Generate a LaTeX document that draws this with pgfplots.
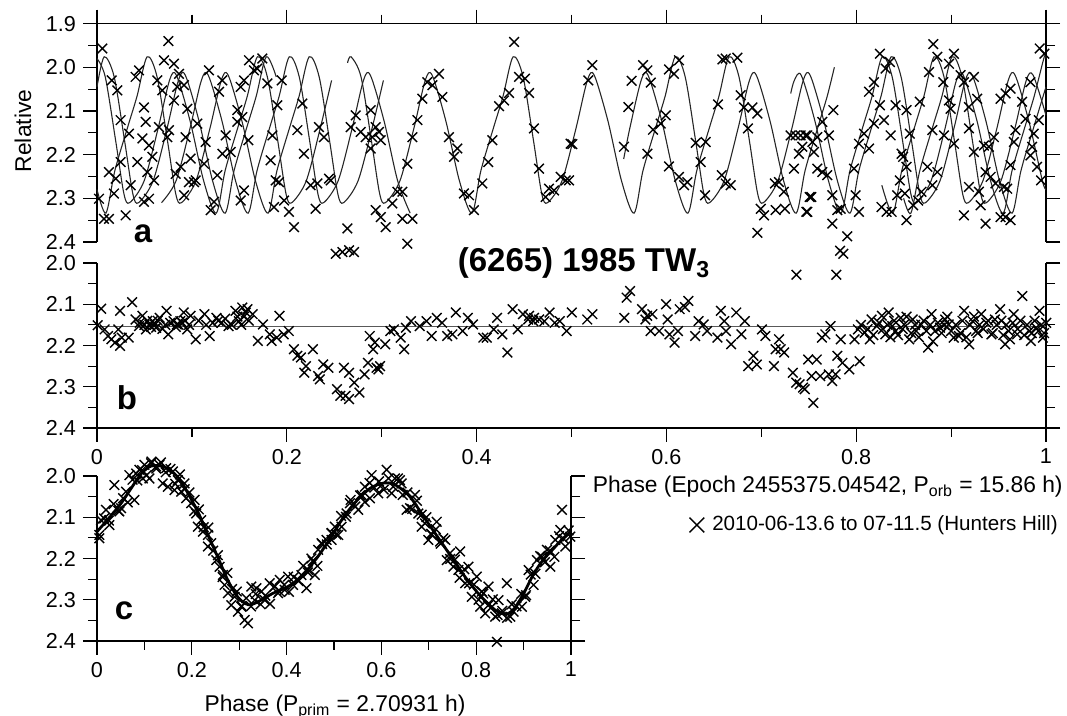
\documentclass[border=0pt]{standalone}
\usepackage{fontspec}
\setmainfont{Liberation Sans}
\usepackage{pgfplots}
\pgfplotsset{compat=1.18}
\pgfplotsset{
  lcbase/.style={
    scale only axis, enlargelimits=false, y dir=reverse, clip=false,
    xmin=0, xmax=1,
    tick align=outside,
    major tick length=7pt, minor tick length=4.5pt,
    axis line style={draw=none},
    tick style={black, line width=0.6pt},
    minor x tick num=1, minor y tick num=1,
    xtick={0,0.2,0.4,0.6,0.8,1},
    ytick pos=both,
    /pgf/number format/assume math mode=true,
    ticklabel style={font=\fontsize{10.8}{12}\selectfont},
    yticklabel style={/pgf/number format/.cd, fixed, fixed zerofill, precision=1},
    yticklabel pos=left,
  },
  pts/.style={only marks, mark=x, mark size=3.4pt, mark options={line width=0.7pt, black}},
  fit/.style={black!85, line width=0.55pt, smooth, no marks},
}
\begin{document}
\begin{tikzpicture}
\path[use as bounding box] (0,0) rectangle (533.5pt,358pt);

%%%%%%%%%%%%%%%% Panel a
\begin{axis}[lcbase, at={(48.5pt,237pt)}, anchor=south west,
  width=474.5pt, height=109.2pt, ymin=1.9, ymax=2.4,
  ytick={1.9,2.0,2.1,2.2,2.3,2.4}, xtick pos=right, xticklabels={}]
\draw[line width=0.6pt] (axis cs:0,2.4) -- (axis cs:0,1.9) -- (axis cs:1,1.9) -- (axis cs:1,2.4);
% model curves (one per night)
\addplot[fit] coordinates {(0.2640,1.990) (0.2677,1.976) (0.2782,2.022) (0.2893,2.170) (0.2979,2.290) (0.3039,2.310) (0.3192,2.260) (0.3339,2.140) (0.3459,2.030) (0.3531,2.018) (0.3676,2.123) (0.3819,2.260) (0.3951,2.334) (0.4046,2.236) (0.4183,2.135) (0.4279,2.066) (0.4385,1.976) (0.4490,2.022) (0.4601,2.170) (0.4687,2.290) (0.4747,2.310) (0.4900,2.260) (0.5047,2.140) (0.5167,2.030) (0.5239,2.018) (0.5384,2.123) (0.5527,2.260) (0.5659,2.334) (0.5754,2.236) (0.5891,2.135) (0.5987,2.066) (0.6093,1.976) (0.6198,2.022) (0.6309,2.170) (0.6395,2.290) (0.6455,2.310) (0.6608,2.260) (0.6755,2.140) (0.6875,2.030) (0.6947,2.018) (0.7092,2.123) (0.7235,2.260) (0.7367,2.334) (0.7462,2.236) (0.7599,2.135) (0.7695,2.066) (0.7770,2.000)};
\addplot[fit] coordinates {(0.5550,2.210) (0.5614,2.140) (0.5734,2.030) (0.5806,2.018) (0.5951,2.123) (0.6094,2.260) (0.6226,2.334) (0.6321,2.236) (0.6458,2.135) (0.6554,2.066) (0.6660,1.976) (0.6765,2.022) (0.6876,2.170) (0.6962,2.290) (0.7022,2.310) (0.7175,2.260) (0.7322,2.140) (0.7442,2.030) (0.7514,2.018) (0.7659,2.123) (0.7802,2.260) (0.7934,2.334) (0.8029,2.236) (0.8166,2.135) (0.8262,2.066) (0.8368,1.976) (0.8473,2.022) (0.8584,2.170) (0.8670,2.290) (0.8730,2.310) (0.8883,2.260) (0.9030,2.140) (0.9150,2.030) (0.9222,2.018) (0.9367,2.123) (0.9510,2.260) (0.9642,2.334) (0.9737,2.236) (0.9874,2.135) (0.9970,2.066) (1.0000,2.045)};
\addplot[fit] coordinates {(0.0000,2.045) (0.0076,1.976) (0.0181,2.022) (0.0292,2.170) (0.0378,2.290) (0.0438,2.310) (0.0591,2.260) (0.0738,2.140) (0.0858,2.030) (0.0930,2.018) (0.1075,2.123) (0.1218,2.260) (0.1350,2.334) (0.1445,2.236) (0.1582,2.135) (0.1678,2.066) (0.1784,1.976) (0.1889,2.022)};
\addplot[fit] coordinates {(0.7310,2.060) (0.7348,2.030) (0.7420,2.018) (0.7565,2.123) (0.7708,2.260) (0.7840,2.334) (0.7935,2.236) (0.8072,2.135) (0.8168,2.066) (0.8274,1.976) (0.8379,2.022) (0.8490,2.170) (0.8576,2.290) (0.8636,2.310) (0.8789,2.260) (0.8936,2.140) (0.9056,2.030) (0.9128,2.018) (0.9273,2.123) (0.9416,2.260) (0.9548,2.334) (0.9643,2.236) (0.9780,2.135) (0.9876,2.066) (0.9982,1.976) (1.0000,1.980)};
\addplot[fit] coordinates {(0.0000,1.980) (0.0087,2.022) (0.0198,2.170) (0.0284,2.290) (0.0344,2.310) (0.0497,2.260) (0.0644,2.140) (0.0764,2.030) (0.0836,2.018) (0.0981,2.123) (0.1124,2.260) (0.1256,2.334) (0.1351,2.236) (0.1488,2.135) (0.1584,2.066) (0.1690,1.976) (0.1795,2.022) (0.1906,2.170) (0.1992,2.290) (0.2052,2.310) (0.2205,2.260) (0.2352,2.140) (0.2472,2.030)};
\addplot[fit] coordinates {(0.8270,2.270) (0.8386,2.334) (0.8481,2.236) (0.8618,2.135) (0.8714,2.066) (0.8820,1.976) (0.8925,2.022) (0.9036,2.170) (0.9122,2.290) (0.9182,2.310) (0.9335,2.260) (0.9482,2.140) (0.9602,2.030) (0.9674,2.018) (0.9819,2.123) (0.9962,2.260) (1.0000,2.280)};
\addplot[fit] coordinates {(0.0000,2.280) (0.0094,2.334) (0.0189,2.236) (0.0326,2.135) (0.0422,2.066) (0.0528,1.976) (0.0633,2.022) (0.0744,2.170) (0.0830,2.290) (0.0890,2.310) (0.1043,2.260) (0.1190,2.140) (0.1310,2.030) (0.1382,2.018) (0.1527,2.123) (0.1670,2.260) (0.1802,2.334) (0.1897,2.236) (0.2034,2.135) (0.2130,2.066) (0.2236,1.976) (0.2341,2.022) (0.2452,2.170) (0.2538,2.290) (0.2598,2.310) (0.2751,2.260) (0.2898,2.140) (0.3018,2.030)};
\addplot[fit] coordinates {(0.8500,2.300) (0.8576,2.334) (0.8671,2.236) (0.8808,2.135) (0.8904,2.066) (0.9010,1.976) (0.9115,2.022) (0.9226,2.170) (0.9312,2.290) (0.9372,2.310) (0.9525,2.260) (0.9672,2.140) (0.9792,2.030) (0.9864,2.018) (1.0000,2.110)};
\addplot[fit] coordinates {(0.0680,2.310) (0.0833,2.260) (0.0980,2.140) (0.1100,2.030) (0.1172,2.018) (0.1317,2.123) (0.1460,2.260) (0.1592,2.334) (0.1687,2.236) (0.1824,2.135) (0.1920,2.066) (0.2026,1.976) (0.2131,2.022) (0.2242,2.170) (0.2328,2.290) (0.2388,2.310) (0.2541,2.260) (0.2688,2.140) (0.2808,2.030) (0.2880,2.018) (0.3025,2.123) (0.3168,2.260) (0.3300,2.334)};
% observations
\addplot[pts] coordinates {
(0.0056,1.957) (0.0155,2.030) (0.0214,2.053) (0.0249,2.121) (0.0337,2.152) (0.0126,2.240) (0.0197,2.255) (0.0249,2.217) (0.0179,2.289) (0.0021,2.301) (0.0074,2.347) (0.0126,2.347) (0.0302,2.339) (0.0355,2.270) (0.0443,2.007) (0.0407,2.022) (0.0495,2.092) (0.0513,2.125) (0.0478,2.163) (0.0425,2.217) (0.0548,2.179) (0.0530,2.240) (0.0583,2.205) (0.0601,2.259) (0.0495,2.308) (0.0548,2.301) (0.0636,2.030) (0.0688,2.053) (0.0706,1.984) (0.0752,1.940) (0.0811,1.992) (0.0864,2.015) (0.0846,2.045) (0.0917,2.041) (0.0811,2.076) (0.0759,2.144) (0.0741,2.160) (0.0653,2.137) (0.0934,2.160) (0.0952,2.095) (0.0987,2.209) (0.0882,2.228) (0.0829,2.244) (0.0969,2.263) (0.1022,2.263) (0.1040,2.259) (0.0917,2.293) (0.1057,2.129) (0.1145,2.171) (0.1128,2.221) (0.1268,2.247) (0.1180,2.007) (0.1286,2.056) (0.1321,2.030) (0.1233,2.308) (0.1198,2.327) (0.1356,2.156) (0.1321,2.198) (0.1409,2.194) (0.1479,2.125) (0.1531,2.114) (0.1514,2.045) (0.1549,2.030) (0.1479,2.098) (0.1595,2.167) (0.1602,1.984) (0.1654,2.007) (0.1689,2.003) (0.1742,1.980) (0.1795,2.037) (0.1549,2.282) (0.1514,2.305) (0.1830,2.213) (0.1848,2.156) (0.1900,2.087) (0.1946,2.030) (0.1883,2.259) (0.1918,2.263) (0.1865,2.320) (0.1971,2.305) (0.2023,2.331) (0.2076,2.366) (0.2111,2.144) (0.2164,2.083) (0.2181,2.198) (0.2251,2.270) (0.2322,2.266) (0.2339,2.137) (0.2392,2.160) (0.2304,2.324) (0.2445,2.255)
(0.2462,2.259) (0.2638,2.369) (0.2516,2.427) (0.2586,2.423) (0.2656,2.419) (0.2708,2.423) (0.2673,2.137) (0.2726,2.110) (0.2779,2.148) (0.2832,2.160) (0.2884,2.098) (0.2901,2.160) (0.2884,2.186) (0.2937,2.137) (0.2972,2.148) (0.2990,2.167) (0.2937,2.327) (0.2990,2.343) (0.3042,2.366) (0.3112,2.312) (0.3165,2.285) (0.3218,2.285) (0.3218,2.347) (0.3323,2.347) (0.3270,2.404) (0.3270,2.221) (0.3323,2.160) (0.3376,2.121) (0.3428,2.072) (0.3481,2.034) (0.3534,2.041) (0.3604,2.015) (0.3639,2.068) (0.3709,2.160) (0.3797,2.186) (0.3762,2.205) (0.3867,2.289) (0.3920,2.293) (0.3972,2.327) (0.4060,2.266) (0.4123,2.217) (0.4166,2.167) (0.4237,2.089) (0.4289,2.076) (0.4342,2.059) (0.4395,1.942) (0.4447,2.022) (0.4510,2.026) (0.4553,2.059) (0.4605,2.140) (0.4658,2.232) (0.4728,2.297) (0.4763,2.278) (0.4816,2.282) (0.4886,2.251) (0.4939,2.259) (0.4991,2.175)
(0.5009,2.176) (0.4974,2.259) (0.5177,2.030) (0.5219,1.995) (0.5553,2.182) (0.5599,2.091) (0.5634,2.031) (0.5754,1.995) (0.5800,2.007) (0.5835,2.035) (0.5800,2.198) (0.5859,2.143) (0.5940,2.129) (0.5993,2.110) (0.6027,2.005) (0.6080,2.015) (0.6133,1.984) (0.6027,2.227) (0.6133,2.251) (0.6186,2.270) (0.6221,2.263) (0.6309,2.173) (0.6361,2.217) (0.6414,2.171) (0.6407,2.293) (0.6544,2.085) (0.6590,1.982) (0.6625,1.980) (0.6748,1.978) (0.6583,2.247) (0.6625,2.266) (0.6678,2.270) (0.6783,2.064) (0.6818,2.092) (0.6860,2.140) (0.6906,2.092) (0.6959,2.106) (0.6994,2.324) (0.7029,2.339) (0.6959,2.379) (0.7143,2.266) (0.7186,2.263) (0.7238,2.285) (0.7151,2.327) (0.7249,2.324) (0.7309,2.156) (0.7361,2.156) (0.7414,2.156) (0.7467,2.156) (0.7432,2.182) (0.7397,2.198) (0.7344,2.232) (0.7475,2.331) (0.7510,2.297)
(0.7370,2.475) (0.7790,2.475) (0.7830,2.420)
(0.7485,2.156) (0.7538,2.171) (0.7590,2.160) (0.7555,2.194) (0.7643,2.125) (0.7713,2.156) (0.7759,2.098) (0.7590,2.232) (0.7643,2.240) (0.7695,2.247) (0.7527,2.297) (0.7485,2.331) (0.7748,2.293) (0.7801,2.327) (0.7836,2.324) (0.7748,2.358) (0.7906,2.387) (0.7864,2.427) (0.7977,2.232) (0.7994,2.293) (0.8029,2.331) (0.8029,2.175) (0.8082,2.152) (0.8135,2.186) (0.8187,2.129) (0.8135,2.056) (0.8187,2.034) (0.8250,1.969) (0.8310,2.003) (0.8355,1.988) (0.8250,2.087) (0.8292,2.121) (0.8363,2.156) (0.8415,2.087) (0.8267,2.320) (0.8320,2.331) (0.8373,2.331) (0.8432,2.293) (0.8460,2.259) (0.8478,2.198) (0.8530,2.098) (0.8565,2.152) (0.8495,2.205) (0.8530,2.228) (0.8513,2.289) (0.8530,2.350) (0.8600,2.316) (0.8653,2.305) (0.8688,2.285) (0.8670,2.079) (0.8767,2.011) (0.8812,1.947) (0.8855,1.976) (0.8802,2.144) (0.8750,2.228) (0.8802,2.270) (0.8855,2.240) (0.8918,2.034) (0.8978,1.992) (0.9030,1.969) (0.8978,2.076) (0.8995,2.095) (0.9030,2.175) (0.8925,2.156) (0.9100,2.018) (0.9135,2.034) (0.9188,2.091) (0.9240,2.022) (0.9275,2.072) (0.9188,2.140) (0.9240,2.194) (0.9135,2.339) (0.9188,2.274) (0.9293,2.285) (0.9311,2.316) (0.9363,2.358) (0.9346,2.179) (0.9398,2.182) (0.9363,2.240) (0.9451,2.160) (0.9416,2.251) (0.9468,2.266) (0.9521,2.072) (0.9574,2.060) (0.9626,2.049) (0.9521,2.343) (0.9574,2.343) (0.9626,2.350) (0.9556,2.274) (0.9591,2.278) (0.9626,2.224) (0.9661,2.171) (0.9678,2.144) (0.9748,2.079) (0.9784,2.118) (0.9836,2.034) (0.9924,2.121) (0.9871,2.152) (0.9854,2.182) (0.9836,2.202) (0.9906,2.228) (0.9948,2.259) (0.9934,1.957) (0.9983,1.969)
};
\end{axis}

%%%%%%%%%%%%%%%% Panel b
\begin{axis}[lcbase, at={(48.5pt,144pt)}, anchor=south west,
  width=474.5pt, height=82.5pt, ymin=2.0, ymax=2.4,
  ytick={2.0,2.1,2.2,2.3,2.4}, xtick pos=left, xticklabel pos=left,
  legend style={at={(axis description cs:0.624,-0.588)}, anchor=west, draw=none, fill=none,
    font=\fontsize{10.3}{12}\selectfont, inner sep=0pt},
  legend cell align=left]
\addlegendimage{only marks, mark=x, mark size=5.2pt, mark options={line width=0.7pt, black}}
\addlegendentry{\hspace{2pt}2010-06-13.6 to 07-11.5 (Hunters Hill)}
\draw[line width=0.6pt] (axis cs:0,2.0) -- (axis cs:0,2.4) -- (axis cs:1,2.4) -- (axis cs:1,2.0);
\addplot[gray!70!black, line width=0.6pt, no marks] coordinates {(0,2.153) (1,2.153)};
\addplot[pts] coordinates {
(0.0007,2.151) (0.0044,2.111) (0.0080,2.161) (0.0116,2.177) (0.0152,2.185) (0.0189,2.193) (0.0225,2.161) (0.0243,2.116) (0.0261,2.181) (0.0243,2.201) (0.0334,2.181) (0.0370,2.095) (0.0406,2.137) (0.0443,2.153) (0.0479,2.128) (0.0515,2.161) (0.0552,2.149) (0.0588,2.141) (0.0624,2.157) (0.0660,2.133) (0.0733,2.116) (0.0751,2.173) (0.0806,2.141) (0.0842,2.149) (0.0878,2.141) (0.0914,2.120) (0.0951,2.161) (0.0987,2.128) (0.1041,2.185) (0.1132,2.124) (0.1187,2.177) (0.1259,2.133) (0.1313,2.145) (0.1386,2.153) (0.1459,2.116) (0.1495,2.141) (0.1531,2.108) (0.1568,2.120) (0.1586,2.112) (0.1640,2.124) (0.1695,2.189) (0.1749,2.149) (0.1821,2.173) (0.1840,2.189) (0.1894,2.181) (0.1923,2.128) (0.1967,2.173) (0.2021,2.165) (0.2075,2.209) (0.2112,2.225) (0.2148,2.229) (0.2202,2.250) (0.2184,2.266) (0.2275,2.209) (0.2330,2.274) (0.2348,2.282) (0.2384,2.246) (0.2438,2.254) (0.2529,2.306) (0.2565,2.322) (0.2602,2.254) (0.2620,2.322) (0.2656,2.330) (0.2656,2.266) (0.2710,2.290) (0.2765,2.314) (0.2819,2.270) (0.2856,2.242) (0.2874,2.177) (0.2910,2.209) (0.2928,2.193) (0.2946,2.254) (0.2965,2.258) (0.2983,2.250) (0.3037,2.197) (0.3091,2.165) (0.3128,2.161) (0.3200,2.181) (0.3237,2.209) (0.3255,2.157) (0.3309,2.141) (0.3400,2.153) (0.3472,2.141) (0.3527,2.177) (0.3581,2.133) (0.3636,2.145) (0.3690,2.177) (0.3745,2.173) (0.3781,2.120) (0.3853,2.165) (0.3908,2.133) (0.3962,2.149) (0.4071,2.181) (0.4107,2.181) (0.4180,2.161) (0.4216,2.133) (0.4271,2.173) (0.4325,2.217) (0.4380,2.112) (0.4434,2.161) (0.4488,2.124) (0.4543,2.137) (0.4597,2.141)
(0.4552,2.128) (0.4606,2.133) (0.4660,2.137) (0.4714,2.141) (0.4769,2.120) (0.4823,2.145) (0.4877,2.141) (0.4949,2.165) (0.5003,2.120) (0.5166,2.137) (0.5220,2.124) (0.5556,2.133) (0.5581,2.084) (0.5617,2.068) (0.5743,2.112) (0.5779,2.137) (0.5797,2.128) (0.5834,2.165) (0.5852,2.124) (0.5924,2.165) (0.5996,2.100) (0.6014,2.137) (0.6032,2.173) (0.6086,2.193) (0.6122,2.165) (0.6140,2.112) (0.6195,2.107) (0.6231,2.092) (0.6303,2.177) (0.6339,2.141) (0.6393,2.149) (0.6429,2.165) (0.6538,2.181) (0.6574,2.116) (0.6610,2.141) (0.6628,2.165) (0.6682,2.197) (0.6736,2.120) (0.6790,2.173) (0.6826,2.141) (0.6862,2.250) (0.6917,2.225) (0.6953,2.246) (0.7007,2.161) (0.7043,2.177) (0.7133,2.250) (0.7151,2.209) (0.7187,2.185) (0.7205,2.209) (0.7241,2.217) (0.7332,2.266) (0.7368,2.290) (0.7404,2.294) (0.7440,2.302) (0.7458,2.306) (0.7494,2.234) (0.7530,2.274) (0.7548,2.339) (0.7584,2.234) (0.7621,2.274) (0.7639,2.181) (0.7675,2.173) (0.7711,2.270) (0.7729,2.153) (0.7747,2.286) (0.7783,2.270) (0.7801,2.225) (0.7837,2.185) (0.7855,2.242) (0.7927,2.258) (0.7982,2.185) (0.8036,2.238) (0.8018,2.161) (0.8090,2.169) (0.8144,2.185) (0.8162,2.137) (0.8216,2.153) (0.8270,2.128) (0.8306,2.173) (0.8342,2.120) (0.8379,2.153) (0.8415,2.165) (0.8469,2.133) (0.8505,2.149) (0.8559,2.185) (0.8595,2.137) (0.8631,2.165) (0.8685,2.149) (0.8758,2.205) (0.8794,2.124) (0.8830,2.165) (0.8884,2.157) (0.8938,2.137) (0.8974,2.149) (0.9028,2.181) (0.9083,2.177) (0.9137,2.116) (0.9191,2.197) (0.9227,2.141) (0.9263,2.165) (0.9317,2.124) (0.9371,2.145) (0.9425,2.173) (0.9462,2.137) (0.9516,2.112) (0.9570,2.197) (0.9606,2.165) (0.9660,2.124) (0.9696,2.173) (0.9750,2.080) (0.9823,2.165) (0.9841,2.189) (0.9895,2.157) (0.9931,2.116) (0.9967,2.181) (1.0003,2.145)
(0.805,2.150) (0.812,2.160) (0.818,2.175) (0.824,2.145) (0.828,2.160) (0.833,2.150) (0.836,2.180) (0.840,2.140) (0.844,2.175) (0.849,2.160) (0.853,2.130) (0.858,2.170) (0.862,2.150) (0.866,2.180) (0.871,2.140) (0.874,2.165) (0.878,2.150) (0.881,2.190) (0.886,2.145) (0.890,2.170) (0.893,2.150) (0.896,2.130) (0.900,2.165) (0.905,2.150) (0.910,2.170) (0.912,2.140) (0.916,2.180) (0.920,2.150) (0.924,2.130) (0.928,2.170) (0.930,2.150) (0.934,2.160) (0.939,2.140) (0.944,2.170) (0.948,2.150) (0.953,2.140) (0.955,2.175) (0.958,2.150) (0.962,2.185) (0.965,2.145) (0.970,2.160) (0.973,2.140) (0.977,2.175) (0.980,2.150) (0.985,2.170) (0.988,2.140) (0.992,2.165) (0.995,2.150) (0.998,2.170)
(0.045,2.145) (0.050,2.150) (0.053,2.140) (0.057,2.155) (0.061,2.150) (0.064,2.140) (0.069,2.160) (0.072,2.150) (0.077,2.145) (0.083,2.155) (0.086,2.150) (0.090,2.145) (0.093,2.140) (0.097,2.150) (0.107,2.140) (0.115,2.150) (0.122,2.145) (0.128,2.140) (0.135,2.135) (0.142,2.150) (0.148,2.130) (0.152,2.150) (0.155,2.130) (0.160,2.140)
};
\end{axis}

%%%%%%%%%%%%%%%% Panel c
\begin{axis}[lcbase, at={(48.5pt,37.5pt)}, anchor=south west,
  width=237pt, height=82.5pt, ymin=2.0, ymax=2.4,
  ytick={2.0,2.1,2.2,2.3,2.4}, xtick pos=left, xticklabel pos=left]
\draw[line width=0.6pt] (axis cs:0,2.0) -- (axis cs:0,2.4) -- (axis cs:1,2.4) -- (axis cs:1,2.0);
\addplot[pts] coordinates {
(0.0049,2.151) (0.0085,2.107) (0.0190,2.082) (0.0261,2.119) (0.0366,2.022) (0.0507,2.078) (0.0472,2.086) (0.0613,2.038) (0.0684,1.998) (0.0789,2.058) (0.0825,1.994) (0.0895,1.985) (0.0965,2.006) (0.1001,1.973) (0.1106,2.006) (0.1142,1.969) (0.1247,1.977) (0.1318,1.973) (0.1388,2.018) (0.1459,1.981) (0.1494,2.026) (0.1600,1.989) (0.1635,2.034) (0.1705,2.010) (0.1776,2.038) (0.1846,2.018) (0.1882,2.054) (0.1987,2.066) (0.2058,2.058) (0.2093,2.091) (0.2128,2.123) (0.2199,2.107) (0.2234,2.135) (0.2340,2.143) (0.2340,2.171) (0.2410,2.163) (0.2516,2.204) (0.2586,2.220) (0.2657,2.240) (0.2692,2.264) (0.2763,2.284) (0.2833,2.313) (0.2903,2.293) (0.2974,2.329) (0.3044,2.317) (0.3115,2.349) (0.3185,2.357) (0.3256,2.268) (0.3362,2.272) (0.3326,2.301) (0.3467,2.280) (0.3538,2.301) (0.3643,2.260) (0.3749,2.268) (0.3820,2.284) (0.3855,2.252) (0.3961,2.276) (0.4031,2.244) (0.4137,2.264) (0.4242,2.252) (0.4313,2.240) (0.4419,2.272) (0.4454,2.228) (0.4524,2.200) (0.4595,2.240) (0.4665,2.179) (0.4736,2.163) (0.4841,2.155) (0.4947,2.139) (0.5018,2.123)
(0.4948,2.155) (0.5089,2.143) (0.5159,2.123) (0.5265,2.091) (0.5335,2.066) (0.5511,2.082) (0.5582,2.046) (0.5652,2.026) (0.5793,1.998) (0.5758,2.054) (0.5934,2.042) (0.6005,2.022) (0.6110,1.985) (0.6216,2.042) (0.6286,2.006) (0.6392,2.010) (0.6427,2.018) (0.6533,2.082) (0.6604,2.078) (0.6709,2.046) (0.6780,2.091) (0.6850,2.123) (0.6921,2.115) (0.6991,2.155) (0.7062,2.143) (0.7167,2.111) (0.7238,2.159) (0.7308,2.151) (0.7379,2.204) (0.7449,2.187) (0.7520,2.220) (0.7625,2.228) (0.7661,2.183) (0.7766,2.260) (0.7837,2.220) (0.7907,2.293) (0.8013,2.244) (0.8084,2.317) (0.8119,2.280) (0.8189,2.333) (0.8260,2.268) (0.8330,2.317) (0.8401,2.341) (0.8436,2.402) (0.8471,2.301) (0.8542,2.333) (0.8647,2.260) (0.8718,2.341) (0.8788,2.329) (0.8965,2.317) (0.9035,2.293) (0.9106,2.228) (0.9211,2.264) (0.9282,2.204) (0.9388,2.196) (0.9493,2.179) (0.9563,2.220) (0.9669,2.155) (0.9775,2.131) (0.9810,2.082) (0.9881,2.171) (0.9986,2.147)
(0.005,2.143) (0.015,2.103) (0.025,2.108) (0.035,2.068) (0.045,2.084) (0.055,2.054) (0.065,2.064) (0.075,2.009) (0.085,2.011) (0.095,1.986) (0.105,1.998) (0.115,1.965) (0.125,1.982) (0.135,1.967) (0.145,1.991) (0.155,1.983) (0.165,2.019) (0.175,1.996) (0.185,2.032) (0.195,2.040) (0.205,2.085) (0.215,2.081) (0.225,2.124) (0.235,2.125) (0.245,2.181) (0.255,2.192) (0.265,2.245) (0.275,2.235) (0.285,2.274) (0.295,2.280) (0.305,2.315) (0.315,2.296) (0.325,2.316) (0.335,2.286) (0.345,2.311) (0.355,2.290) (0.365,2.310) (0.375,2.267) (0.385,2.280) (0.395,2.264) (0.405,2.281) (0.415,2.245) (0.425,2.255) (0.435,2.218) (0.445,2.234) (0.455,2.206) (0.465,2.218) (0.475,2.165) (0.485,2.166) (0.495,2.138) (0.505,2.142) (0.515,2.097) (0.525,2.099) (0.535,2.058) (0.545,2.074) (0.555,2.047) (0.565,2.063) (0.575,2.017) (0.585,2.028) (0.595,2.013) (0.605,2.033) (0.615,2.006) (0.625,2.026) (0.635,2.006) (0.645,2.046) (0.655,2.040) (0.665,2.080) (0.675,2.060) (0.685,2.094) (0.695,2.100) (0.705,2.140) (0.715,2.129) (0.725,2.164) (0.735,2.155) (0.745,2.201) (0.755,2.203) (0.765,2.247) (0.775,2.226) (0.785,2.260) (0.795,2.263) (0.805,2.300) (0.815,2.285) (0.825,2.314) (0.835,2.299) (0.845,2.337) (0.855,2.327) (0.865,2.344) (0.875,2.311) (0.885,2.316) (0.895,2.286) (0.905,2.289) (0.915,2.239) (0.925,2.237) (0.935,2.194) (0.945,2.209) (0.955,2.181) (0.965,2.196) (0.975,2.146) (0.985,2.153) (0.995,2.132)
};
\addplot[black, line width=1.4pt, smooth, no marks] coordinates {(0.000,2.135) (0.023,2.105) (0.051,2.066) (0.072,2.030) (0.093,1.995) (0.114,1.976) (0.142,1.978) (0.170,2.002) (0.191,2.040) (0.214,2.090) (0.235,2.145) (0.256,2.200) (0.277,2.255) (0.298,2.295) (0.319,2.312) (0.340,2.305) (0.370,2.285) (0.400,2.270) (0.430,2.245) (0.463,2.200) (0.490,2.155) (0.520,2.100) (0.548,2.060) (0.576,2.030) (0.605,2.017) (0.630,2.022) (0.660,2.050) (0.690,2.100) (0.720,2.150) (0.750,2.200) (0.780,2.250) (0.810,2.292) (0.840,2.325) (0.862,2.335) (0.880,2.322) (0.900,2.285) (0.920,2.240) (0.940,2.205) (0.960,2.180) (0.980,2.155) (1.000,2.135)};
\end{axis}

%%%%%%%%%%%%%%%% Texts
\node[rotate=90, font=\fontsize{11.4}{13}\selectfont] at (11.5pt,292.5pt) {Relative};
\node[anchor=base, inner sep=0pt, font=\fontsize{16.5}{18}\selectfont\bfseries] at (292pt,222pt) {(6265) 1985 TW\textsubscript{3}};
\node[anchor=base, inner sep=0pt, font=\fontsize{16.5}{18}\selectfont\bfseries] at (71.5pt,236.5pt) {a};
\node[anchor=base, inner sep=0pt, font=\fontsize{16.5}{18}\selectfont\bfseries] at (63.5pt,153pt) {b};
\node[anchor=base, inner sep=0pt, font=\fontsize{16.5}{18}\selectfont\bfseries] at (62pt,48pt) {c};
\node[anchor=east, inner sep=0pt, font=\fontsize{11.4}{13}\selectfont] at (531.5pt,114.5pt) {Phase (Epoch 2455375.04542, P\textsubscript{orb} = 15.86 h)};
\node[inner sep=0pt, font=\fontsize{11.4}{13}\selectfont] at (167.5pt,4.5pt) {Phase (P\textsubscript{prim} = 2.70931 h)};
\end{tikzpicture}
\end{document}
